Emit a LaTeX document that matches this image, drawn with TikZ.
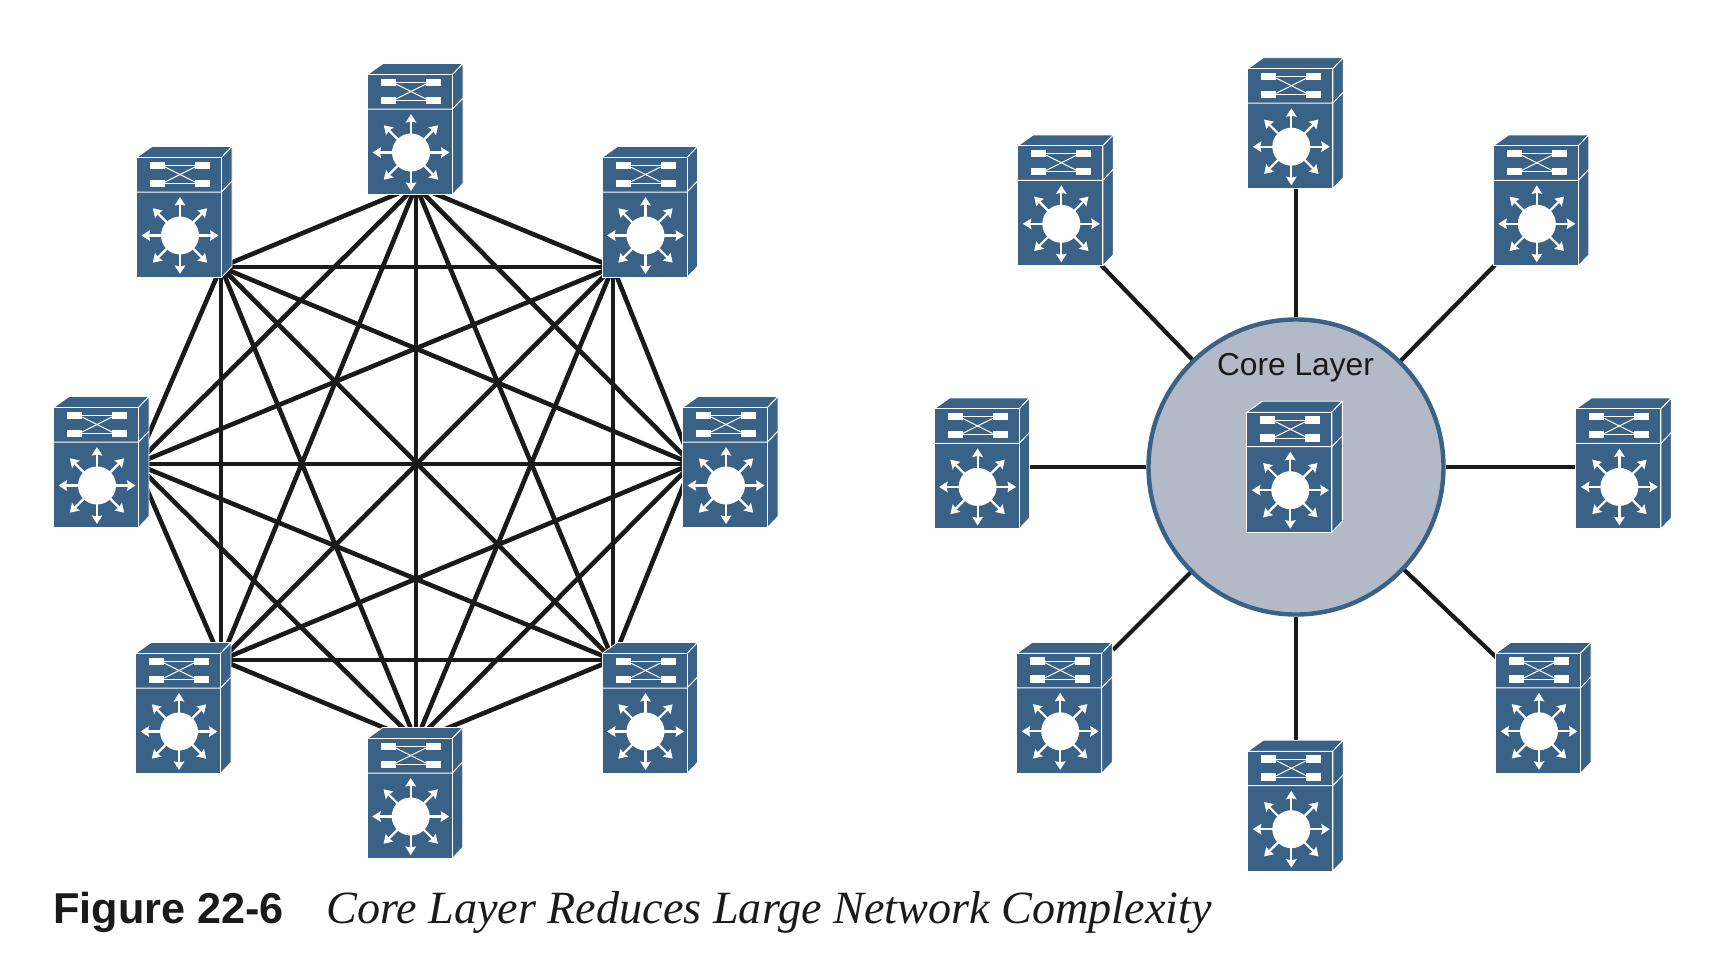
\documentclass[tikz,border=0pt]{standalone}
\usepackage{fontspec}
\setmainfont{Liberation Sans}
\newfontfamily\captionserif{Liberation Serif}
\usetikzlibrary{arrows.meta}
\definecolor{SwitchBlue}{HTML}{3A6186}
\definecolor{CoreGrey}{HTML}{B2BAC8}
\definecolor{WireBlack}{HTML}{1A1A1A}

\begin{document}
\begin{tikzpicture}[x=1pt,y=-1pt]
  \tikzset{EdgeStyle/.style   = {line width = 4.6pt,
                                 color      = WireBlack}}
  \tikzset{SpokeStyle/.style  = {line width = 4.2pt,
                                 color      = WireBlack}}
  \tikzset{SwitchFace/.style  = {fill       = SwitchBlue,
                                 draw       = white,
                                 line width = 0.9pt,
                                 line join  = round}}
  \tikzset{SwitchPort/.style  = {fill       = white,
                                 draw       = none}}
  \tikzset{SwitchWire/.style  = {draw       = white,
                                 line width = 1pt}}
  \tikzset{SwitchRay/.style   = {draw       = white,
                                 line width = 2.2pt,
                                 -{Stealth[length=8.5pt,width=10.5pt,inset=1pt]}}}
  \tikzset{CoreStyle/.style   = {shape        = circle,
                                 fill         = CoreGrey,
                                 draw         = SwitchBlue,
                                 line width   = 4.4pt,
                                 inner sep    = 0pt,
                                 minimum size = 295pt}}
  \tikzset{CoreLabel/.style   = {text         = WireBlack,
                                 inner sep    = 0pt,
                                 anchor       = base,
                                 font         = \fontsize{31.7}{36}\selectfont}}
  \tikzset{SwitchStyle/.pic = {
    \draw[SwitchFace] (-0.5,-119.5) -- (15,-130.5) -- (95,-130.5) -- (84.5,-119.5) -- cycle;
    \draw[SwitchFace] (84.5,0.5) -- (95,-10.5) -- (95,-130.5) -- (84.5,-119.5) -- cycle;
    \draw[SwitchFace] (-0.5,0.5) rectangle (84.5,-119.5);
    \draw[SwitchWire] (-0.5,-85) -- (84.5,-85) -- (95,-96);
    \fill[SwitchPort] (13,-115.5) rectangle (28,-108);
    \fill[SwitchPort] (13,-97.5) rectangle (28,-90);
    \fill[SwitchPort] (58,-115.5) rectangle (73,-108);
    \fill[SwitchPort] (58,-97.5) rectangle (73,-90);
    \draw[SwitchWire] (28,-111.5) -- (58,-111.5);
    \draw[SwitchWire] (28,-93.5) -- (58,-93.5);
    \draw[SwitchWire] (28,-110) -- (58,-95);
    \draw[SwitchWire] (28,-95) -- (58,-110);
    \fill[white] (43,-41.5) circle (19);
    \foreach \ang in {0,45,...,315}
      \draw[SwitchRay] (43,-41.5) ++(\ang:17) -- ++(\ang:21.5);
  }}

% points where the mesh lines meet
\coordinate (M1) at (416,186);
\coordinate (M2) at (613,267);
\coordinate (M3) at (692,464);
\coordinate (M4) at (613,660);
\coordinate (M5) at (416,741);
\coordinate (M6) at (221,660);
\coordinate (M7) at (136,464);
\coordinate (M8) at (221,267);

% points where the spokes end
\coordinate (S1) at (1296,188);
\coordinate (S2) at (1495,265);
\coordinate (S3) at (1576,467);
\coordinate (S4) at (1497,658);
\coordinate (S5) at (1296,745);
\coordinate (S6) at (1113,650);
\coordinate (S7) at (1025,467);
\coordinate (S8) at (1101,265);

\draw[EdgeStyle] (M1) -- (M2);
\draw[EdgeStyle] (M1) -- (M3);
\draw[EdgeStyle] (M1) -- (M4);
\draw[EdgeStyle] (M1) -- (M5);
\draw[EdgeStyle] (M1) -- (M6);
\draw[EdgeStyle] (M1) -- (M7);
\draw[EdgeStyle] (M1) -- (M8);
\draw[EdgeStyle] (M2) -- (M3);
\draw[EdgeStyle] (M2) -- (M4);
\draw[EdgeStyle] (M2) -- (M5);
\draw[EdgeStyle] (M2) -- (M6);
\draw[EdgeStyle] (M2) -- (M7);
\draw[EdgeStyle] (M2) -- (M8);
\draw[EdgeStyle] (M3) -- (M4);
\draw[EdgeStyle] (M3) -- (M5);
\draw[EdgeStyle] (M3) -- (M6);
\draw[EdgeStyle] (M3) -- (M7);
\draw[EdgeStyle] (M3) -- (M8);
\draw[EdgeStyle] (M4) -- (M5);
\draw[EdgeStyle] (M4) -- (M6);
\draw[EdgeStyle] (M4) -- (M7);
\draw[EdgeStyle] (M4) -- (M8);
\draw[EdgeStyle] (M5) -- (M6);
\draw[EdgeStyle] (M5) -- (M7);
\draw[EdgeStyle] (M5) -- (M8);
\draw[EdgeStyle] (M6) -- (M7);
\draw[EdgeStyle] (M6) -- (M8);
\draw[EdgeStyle] (M7) -- (M8);

\node[CoreStyle] (core) at (1296,467) {};
\node[CoreLabel] (corelabel) at (1295.5,375) {Core Layer};

\draw[SpokeStyle] (core) -- (S1);
\draw[SpokeStyle] (core) -- (S2);
\draw[SpokeStyle] (core) -- (S3);
\draw[SpokeStyle] (core) -- (S4);
\draw[SpokeStyle] (core) -- (S5);
\draw[SpokeStyle] (core) -- (S6);
\draw[SpokeStyle] (core) -- (S7);
\draw[SpokeStyle] (core) -- (S8);

\pic at (368,194) {SwitchStyle};
\pic at (602.5,277) {SwitchStyle};
\pic at (683,527) {SwitchStyle};
\pic at (602.5,773) {SwitchStyle};
\pic at (367.7,858) {SwitchStyle};
\pic at (136,773) {SwitchStyle};
\pic at (54,527) {SwitchStyle};
\pic at (137,277) {SwitchStyle};

\pic at (1248.3,188.2) {SwitchStyle};
\pic at (1493.8,265.3) {SwitchStyle};
\pic at (1576.4,528.4) {SwitchStyle};
\pic at (1496,772.8) {SwitchStyle};
\pic at (1248.3,870.7) {SwitchStyle};
\pic at (1017.2,772.8) {SwitchStyle};
\pic at (934.6,528.4) {SwitchStyle};
\pic at (1018.3,265.3) {SwitchStyle};
\pic at (1247.3,531.7) {SwitchStyle};

\node[anchor=base west,inner sep=0pt,text=WireBlack,font=\fontsize{43.2}{48}\selectfont\bfseries]
  (figlabel) at (53,923) {Figure 22-6};
\node[anchor=base west,inner sep=0pt,text=WireBlack,font=\fontsize{46.2}{50}\selectfont\captionserif\itshape]
  (figtitle) at (326,923) {Core Layer Reduces Large Network Complexity};

\useasboundingbox (0,0) rectangle (1726,954);
\end{tikzpicture}
\end{document}
